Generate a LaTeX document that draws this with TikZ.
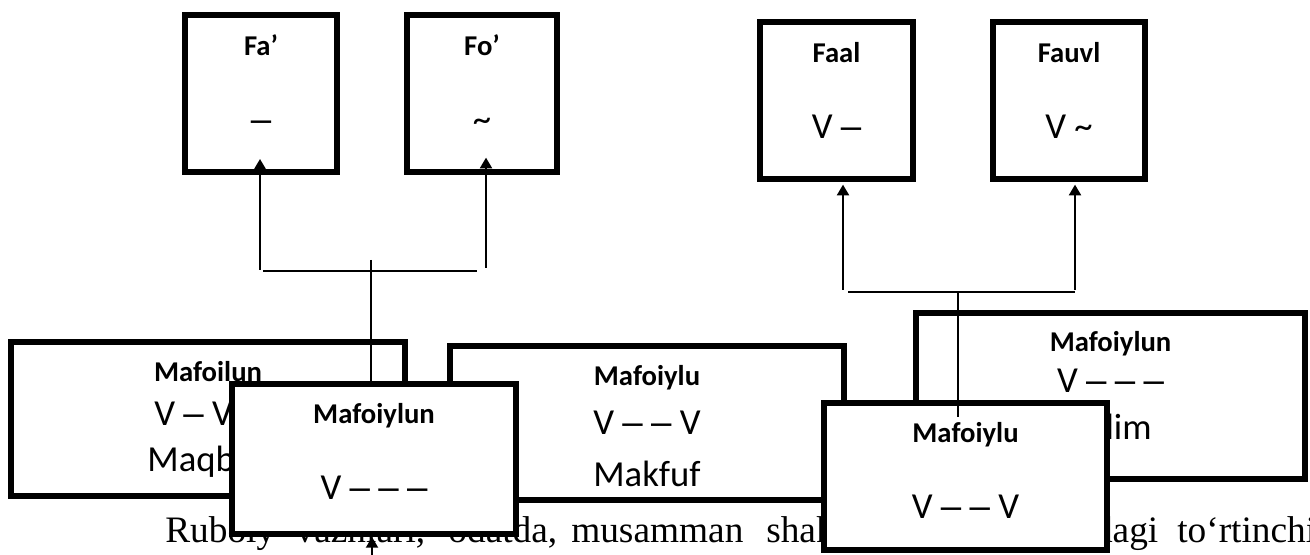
\documentclass[tikz,border=0pt]{standalone}
\usepackage{fontspec}
\setmainfont{Carlito}
\newfontfamily\tnr{Liberation Serif}
\newfontfamily\dashf{Liberation Sans}
\newcommand{\ds}{{\dashf –}}
\usetikzlibrary{arrows.meta}
\begin{document}
\begin{tikzpicture}[x=0.75pt,y=-0.75pt,
  box/.style={draw, line width=4.5pt, fill=white, rectangle, inner sep=0pt},
  hd/.style={font=\fontsize{21.5}{25}\selectfont\bfseries, inner sep=0pt, anchor=base},
  bd/.style={font=\fontsize{27.5}{33}\selectfont, inner sep=0pt, anchor=base},
  wd/.style={font=\tnr\fontsize{28}{34}\selectfont, inner sep=0pt, anchor=base west},
  conn/.style={line width=1.5pt},
  thinc/.style={line width=1pt},
  arr/.style={line width=1.5pt, -{Triangle[width=9pt,length=8pt]}}]
\useasboundingbox (0,0) rectangle (1310,555);
% running text below (partly covered)
\node[wd] (w1) at (165,542) {\makebox[294pt][s]{Ruboiy vaznlari, odatda,}};
\node[wd] (w2) at (571,542) {musamman};
\node[wd] (w3) at (766,542) {\makebox[294pt][s]{shaklda bo‘lib, misradagi}};
\node[wd] (w4) at (1177,542) {to‘rtinchi};
% top boxes
\node[box, minimum width=114pt, minimum height=117.75pt] (fa) at (261,93.5) {};
\node[hd] (fat) at (261,56) {Fa’};
\node[bd] (fab) at (261,132) {\ds};
\node[box, minimum width=112.5pt, minimum height=117.75pt] (fo) at (482,93.5) {};
\node[hd] (fot) at (482,56) {Fo’};
\node[bd] (fob) at (482,132) {\textasciitilde};
\node[box, minimum width=114.75pt, minimum height=117.75pt] (faal) at (836.5,100.5) {};
\node[hd] (faalt) at (836.5,63) {Faal};
\node[bd] (faalb) at (836.5,139) {V \ds};
\node[box, minimum width=114pt, minimum height=117.75pt] (fauvl) at (1069,100.5) {};
\node[hd] (fauvlt) at (1069,63) {Fauvl};
\node[bd] (fauvlb) at (1069,139) {V \textasciitilde};
% back boxes
\node[box, minimum width=295.5pt, minimum height=115.5pt] (mq) at (208,419) {};
\node[hd] (mqt) at (208,382) {Mafoilun};
\node[bd] (mqb) at (208,426) {V \ds{} V \ds};
\node[bd] (mqc) at (208,472) {Maqbuz};
\node[box, minimum width=295.5pt, minimum height=115.5pt] (mk) at (647,423) {};
\node[hd] (mkt) at (647,386) {Mafoiylu};
\node[bd] (mkb) at (647,435) {V \ds{} \ds{} V};
\node[bd] (mkc) at (647,487) {Makfuf};
\node[box, minimum width=291.75pt, minimum height=124.5pt] (ms) at (1110.5,396) {};
\node[hd] (mst) at (1110.5,352) {Mafoiylun};
\node[bd] (msb) at (1110.5,393) {V \ds{} \ds{} \ds};
\node[bd] (msc) at (1110.5,440) {Solim};
% front boxes
\node[box, minimum width=213pt, minimum height=112.5pt] (fmn) at (374,459) {};
\node[hd] (fmnt) at (374,424) {Mafoiylun};
\node[bd] (fmnb) at (374,500) {V \ds{} \ds{} \ds};
\node[box, minimum width=212.25pt, minimum height=110.25pt] (fmu) at (965.5,476.5) {};
\node[hd] (fmut) at (965.5,443) {Mafoiylu};
\node[bd] (fmub) at (965.5,518) {V \ds{} \ds{} V};
% connectors left
\coordinate (la) at (260,270);
\coordinate (lb) at (486,268);
\coordinate (lh1) at (263,271);
\coordinate (lh2) at (477,271);
\coordinate (lj) at (371,260);
\draw[arr] (la) -- ([yshift=12pt]fa.south -| la);
\draw[arr] (lb) -- ([yshift=13pt]fo.south -| lb);
\draw[conn] (lh1) -- (lh2);
\draw[thinc] (lj) -- (lj |- fmn.north);
% connectors right
\coordinate (ra) at (843,290);
\coordinate (rb) at (1075,290);
\coordinate (rh1) at (848,292);
\coordinate (rh2) at (1075,292);
\coordinate (rj) at (958,292);
\coordinate (re) at (958,417);
\draw[arr] (ra) -- ([yshift=-2pt]faal.south -| ra);
\draw[arr] (rb) -- ([yshift=-2pt]fauvl.south -| rb);
\draw[conn] (rh1) -- (rh2);
\draw[thinc] (rj) -- (re);
% bottom arrow
\coordinate (bt) at (372,560);
\draw[arr] (bt) -- (bt |- fmn.south);
\end{tikzpicture}
\end{document}
